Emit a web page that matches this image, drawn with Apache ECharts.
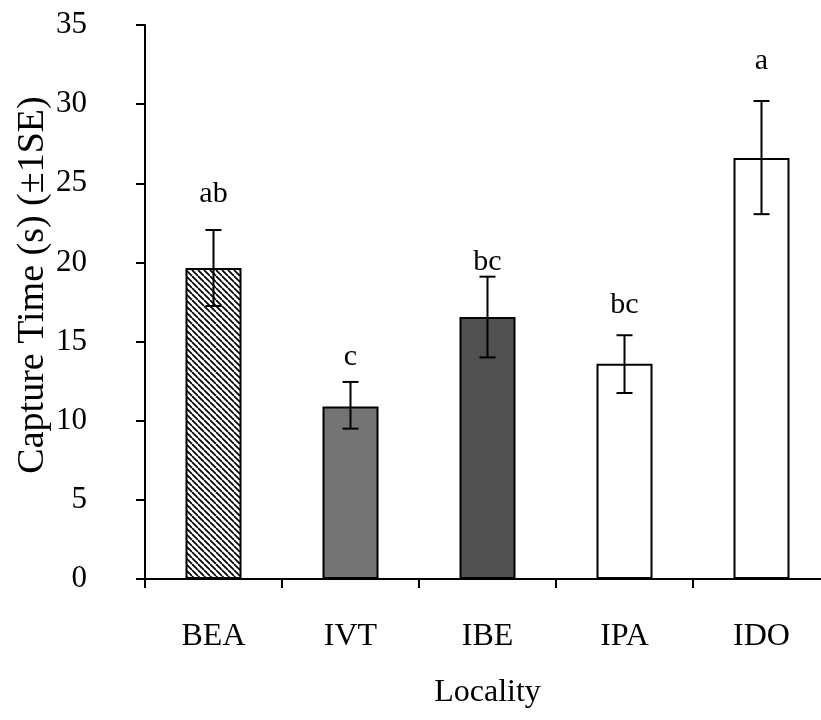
<!DOCTYPE html>
<html>
<head>
<meta charset="utf-8">
<script src="https://cdn.jsdelivr.net/npm/echarts@6/dist/echarts.min.js"></script>
<style>
  html, body { margin: 0; padding: 0; background: #fff; }
  #main { width: 821px; height: 720px; }
</style>
</head>
<body>
<div id="main"></div>
<script>
// data
var categories = ["BEA", "IVT", "IBE", "IPA", "IDO"];
var means = [19.65, 10.9, 16.55, 13.6, 26.6];
var seLow = [17.25, 9.5, 14.0, 11.75, 23.05];
var seHigh = [22.05, 12.45, 19.1, 15.4, 30.2];
var groupLetters = ["ab", "c", "bc", "bc", "a"];
var letterY = [24.3, 14.0, 20.0, 17.3, 32.7];

var FONT = "'Liberation Serif', 'Times New Roman', serif";

// diagonal hatch for the first bar
function hatch() {
  var c = document.createElement("canvas");
  c.width = 6;
  c.height = 6;
  var ctx = c.getContext("2d");
  ctx.fillStyle = "#fff";
  ctx.fillRect(0, 0, 6, 6);
  ctx.strokeStyle = "#000";
  ctx.lineWidth = 1.7;
  [-6, 0, 6].forEach(function (o) {
    ctx.beginPath();
    ctx.moveTo(o, 0);
    ctx.lineTo(o + 6, 6);
    ctx.stroke();
  });
  return c;
}

var fills = [
  { image: hatch(), repeat: "repeat" },
  "#747474",
  "#505050",
  "#ffffff",
  "#ffffff"
];

var myChart = echarts.init(document.getElementById("main"));

var option = {
  animation: false,
  backgroundColor: "#fff",
  grid: { left: 145, top: 25, width: 685, height: 554, outerBoundsMode: "none" },
  xAxis: {
    type: "category",
    data: categories,
    name: "Locality",
    nameLocation: "middle",
    nameGap: 98,
    nameTextStyle: { color: "#000", fontFamily: FONT, fontSize: 32 },
    axisLine: { lineStyle: { color: "#000", width: 2 } },
    axisTick: { show: true, alignWithLabel: false, length: 9, lineStyle: { color: "#000", width: 2 } },
    axisLabel: { color: "#000", fontFamily: FONT, fontSize: 32, margin: 42 }
  },
  yAxis: {
    type: "value",
    min: 0,
    max: 35,
    interval: 5,
    splitLine: { show: false },
    axisLine: { show: true, lineStyle: { color: "#000", width: 2 } },
    axisTick: { show: true, length: 9, lineStyle: { color: "#000", width: 2 } },
    axisLabel: { color: "#000", fontFamily: FONT, fontSize: 31, margin: 58 }
  },
  graphic: [
    {
      type: "text",
      x: 33,
      y: 285,
      rotation: Math.PI / 2,
      style: {
        text: "Capture Time (s) (\u00b11SE)",
        fill: "#000",
        font: "38px " + FONT,
        align: "center",
        verticalAlign: "middle"
      }
    }
  ],
  series: [
    {
      type: "bar",
      barWidth: 56,
      data: means.map(function (v, i) {
        return { value: v, itemStyle: { color: fills[i] } };
      }),
      itemStyle: { borderColor: "#000", borderWidth: 2 }
    },
    {
      type: "custom",
      data: categories.map(function (c, i) {
        return [i, seLow[i], seHigh[i], letterY[i]];
      }),
      z: 5,
      renderItem: function (params, api) {
        var i = api.value(0);
        var lo = api.coord([i, api.value(1)]);
        var hi = api.coord([i, api.value(2)]);
        var ly = api.coord([i, api.value(3)]);
        var hw = 8;
        var st = { stroke: "#000", lineWidth: 2 };
        return {
          type: "group",
          children: [
            { type: "line", shape: { x1: hi[0], y1: hi[1], x2: lo[0], y2: lo[1] }, style: st },
            { type: "line", shape: { x1: hi[0] - hw, y1: hi[1], x2: hi[0] + hw, y2: hi[1] }, style: st },
            { type: "line", shape: { x1: lo[0] - hw, y1: lo[1], x2: lo[0] + hw, y2: lo[1] }, style: st },
            {
              type: "text",
              x: ly[0],
              y: ly[1],
              style: {
                text: groupLetters[params.dataIndex],
                fill: "#000",
                font: "30px " + FONT,
                align: "center",
                verticalAlign: "middle"
              }
            }
          ]
        };
      }
    }
  ]
};

myChart.setOption(option);
</script>
</body>
</html>
